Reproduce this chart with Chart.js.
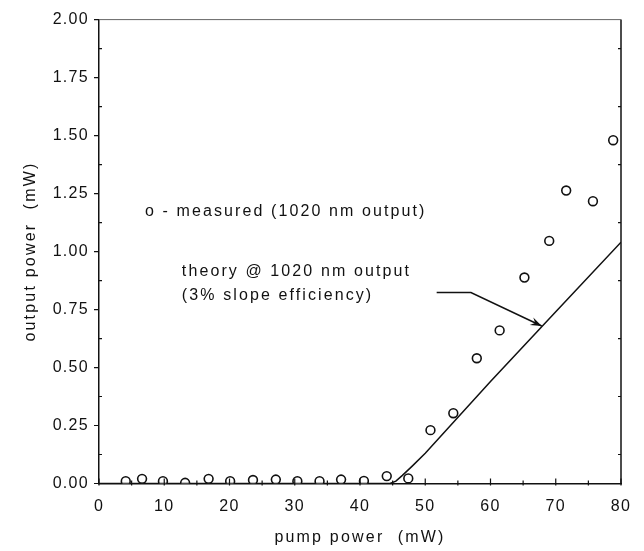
<!DOCTYPE html>
<html>
<head>
<meta charset="utf-8">
<script src="https://cdn.jsdelivr.net/npm/chart.js@4.4.1/dist/chart.umd.min.js"></script>
<style>
  html, body { margin: 0; padding: 0; background: #fff; }
  #wrap { width: 644px; height: 551px; position: relative; }
</style>
</head>
<body>
<div id="wrap"><canvas id="chart" width="644" height="551"></canvas></div>
<script>
// measured points (pump mW, output mW)
const pumpMeasured = [4.1, 6.6, 9.8, 13.2, 16.8, 20.1, 23.6, 27.1, 30.4, 33.8, 37.1, 40.6, 44.1, 47.4, 50.8, 54.3, 57.9, 61.4, 65.2, 69.0, 71.6, 75.7, 78.8];
const outMeasured = [0.01, 0.02, 0.01, 0.003, 0.02, 0.01, 0.015, 0.017, 0.01, 0.01, 0.017, 0.011, 0.032, 0.022, 0.23, 0.303, 0.54, 0.66, 0.888, 1.046, 1.263, 1.217, 1.48];

// theory curve @ 1020 nm
const pumpTheory = [0, 44.6, 45.5, 46.5, 48, 50, 60, 70, 80];
const outTheory = [0, 0, 0.01, 0.035, 0.075, 0.13, 0.44, 0.74, 1.04];

const xTicks = [0, 10, 20, 30, 40, 50, 60, 70, 80];
const yTicks = [0, 0.25, 0.5, 0.75, 1, 1.25, 1.5, 1.75, 2];

const FONT = "'Liberation Sans', Arial, sans-serif";
const INK = "#111";

const toPoints = (xs, ys) => xs.map((x, i) => ({ x: x, y: ys[i] }));

// wrap a scale draw step so its text gets its own letter spacing
function spaced(scale, name, spacing) {
  const orig = scale[name];
  scale[name] = function () {
    const c = this.ctx;
    const prev = c.letterSpacing;
    c.letterSpacing = spacing;
    orig.apply(this, arguments);
    c.letterSpacing = prev;
  };
}

// axis box, small ticks, notes and arrow
const decorations = {
  id: "decorations",
  beforeDraw(chart) {
    Object.values(chart.scales).forEach((s) => {
      if (s._spaced) return;
      spaced(s, "drawLabels", "1.3px");
      spaced(s, "drawTitle", "2.2px");
      s._spaced = true;
    });
  },
  afterDraw(chart) {
    const { ctx, chartArea: a, scales } = chart;
    const xs = scales.x, ys = scales.y;
    ctx.save();
    ctx.strokeStyle = INK;
    ctx.lineWidth = 1.5;

    // right side + top
    ctx.beginPath();
    ctx.moveTo(a.right, a.top);
    ctx.lineTo(a.right, a.bottom);
    ctx.stroke();
    ctx.strokeStyle = "#666";
    ctx.lineWidth = 1;
    ctx.beginPath();
    ctx.moveTo(a.left, a.top);
    ctx.lineTo(a.right, a.top);
    ctx.stroke();

    ctx.strokeStyle = INK;
    ctx.lineWidth = 1.2;
    ctx.beginPath();
    for (let v = 0; v <= 80; v += 5) {
      const px = xs.getPixelForValue(v);
      const len = v % 10 === 0 ? 5 : 3;
      ctx.moveTo(px, a.bottom + 2);
      ctx.lineTo(px, a.bottom - len);
    }
    for (let v = 0; v <= 2.0001; v += 0.125) {
      const py = ys.getPixelForValue(v);
      if (Math.round(v * 8) % 2 === 0) {
        ctx.moveTo(a.left - 5, py);
        ctx.lineTo(a.left, py);
      } else {
        ctx.moveTo(a.left, py);
        ctx.lineTo(a.left + 3, py);
        ctx.moveTo(a.right, py);
        ctx.lineTo(a.right - 3, py);
      }
    }
    ctx.stroke();

    // notes
    ctx.fillStyle = INK;
    ctx.font = "16px " + FONT;
    ctx.letterSpacing = "2.1px";
    ctx.textBaseline = "middle";
    ctx.textAlign = "left";
    ctx.fillText("o - measured (1020 nm output)", xs.getPixelForValue(7.05), ys.getPixelForValue(1.172));
    ctx.fillText("theory @ 1020 nm output", xs.getPixelForValue(12.7), ys.getPixelForValue(0.913));
    ctx.fillText("(3% slope efficiency)", xs.getPixelForValue(12.7), ys.getPixelForValue(0.808));

    // arrow to theory line
    const p0 = [xs.getPixelForValue(51.75), ys.getPixelForValue(0.823)];
    const p1 = [xs.getPixelForValue(57.0), ys.getPixelForValue(0.823)];
    const p2 = [xs.getPixelForValue(67.85), ys.getPixelForValue(0.679)];
    ctx.lineWidth = 1.5;
    ctx.beginPath();
    ctx.moveTo(p0[0], p0[1]);
    ctx.lineTo(p1[0], p1[1]);
    ctx.lineTo(p2[0], p2[1]);
    ctx.stroke();
    const ang = Math.atan2(p2[1] - p1[1], p2[0] - p1[0]);
    const head = 12;
    ctx.beginPath();
    ctx.moveTo(p2[0], p2[1]);
    ctx.lineTo(p2[0] - head * Math.cos(ang - 0.35), p2[1] - head * Math.sin(ang - 0.35));
    ctx.lineTo(p2[0] - head * 0.6 * Math.cos(ang), p2[1] - head * 0.6 * Math.sin(ang));
    ctx.lineTo(p2[0] - head * Math.cos(ang + 0.35), p2[1] - head * Math.sin(ang + 0.35));
    ctx.closePath();
    ctx.fill();
    ctx.restore();
  },
};

const ctx = document.getElementById("chart").getContext("2d");

new Chart(ctx, {
  type: "scatter",
  data: {
    datasets: [
      {
        label: "theory @ 1020 nm output",
        data: toPoints(pumpTheory, outTheory),
        showLine: true,
        borderColor: INK,
        borderWidth: 1.5,
        pointRadius: 0,
        tension: 0,
      },
      {
        label: "measured (1020 nm output)",
        data: toPoints(pumpMeasured, outMeasured),
        showLine: false,
        pointStyle: "circle",
        pointRadius: 4.4,
        borderWidth: 1.6,
        borderColor: INK,
        backgroundColor: "#fff",
      },
    ],
  },
  options: {
    responsive: false,
    animation: false,
    devicePixelRatio: 1,
    layout: { padding: { top: 12, right: 23, left: 0, bottom: 0 } },
    plugins: {
      legend: { display: false },
      tooltip: { enabled: false },
    },
    scales: {
      x: {
        type: "linear",
        min: 0,
        max: 80,
        afterFit: (s) => { s.height = 67.5; },
        afterBuildTicks: (s) => { s.ticks = xTicks.map((v) => ({ value: v })); },
        grid: { display: false, drawTicks: false },
        border: { display: true, color: INK, width: 1.5 },
        ticks: {
          color: INK,
          padding: 13,
          autoSkip: false,
          font: { family: FONT, size: 16 },
          maxRotation: 0,
        },
        title: {
          display: true,
          text: "pump power  (mW)",
          color: INK,
          font: { family: FONT, size: 16 },
          padding: { top: 0, bottom: 4 },
        },
      },
      y: {
        type: "linear",
        min: 0,
        max: 2,
        afterFit: (s) => { s.width = 99; },
        afterBuildTicks: (s) => { s.ticks = yTicks.map((v) => ({ value: v })); },
        grid: { display: false, drawTicks: false },
        border: { display: true, color: INK, width: 1.5 },
        ticks: {
          color: INK,
          padding: 10,
          autoSkip: false,
          font: { family: FONT, size: 16 },
          callback: (v) => Number(v).toFixed(2),
        },
        title: {
          display: true,
          text: "output power  (mW)",
          color: INK,
          font: { family: FONT, size: 16 },
          padding: { top: 21, bottom: 0 },
        },
      },
    },
  },
  plugins: [decorations],
});
</script>
</body>
</html>
